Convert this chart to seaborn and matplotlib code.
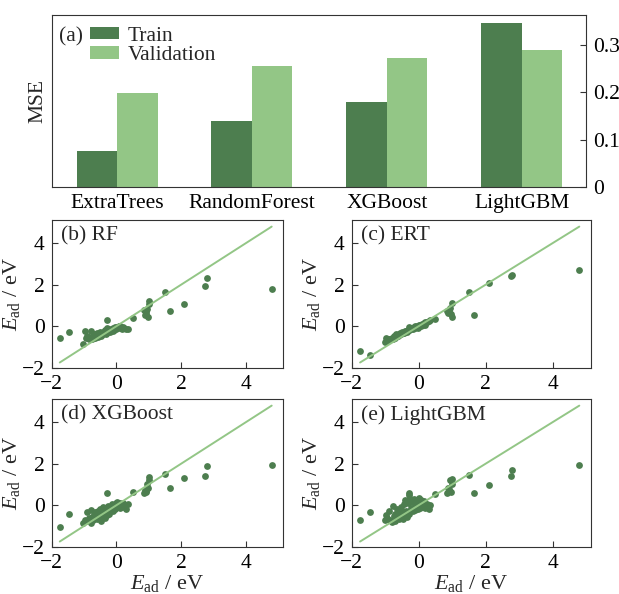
import matplotlib
matplotlib.use("Agg")
import matplotlib.pyplot as plt
import pandas as pd
import seaborn as sns

sns.set_style("ticks")
plt.rcParams['font.family'] = ['Liberation Serif', 'DejaVu Serif']
plt.rcParams['mathtext.fontset'] = 'custom'
plt.rcParams['mathtext.rm'] = 'Liberation Serif'
plt.rcParams['mathtext.it'] = 'Liberation Serif:italic'

DARK = '#4d7e4f'
LIGHT = '#93c686'

# (a) MSE of each model
models = ['ExtraTrees', 'RandomForest', 'XGBoost', 'LightGBM']
mse_train = [0.076, 0.139, 0.179, 0.346]
mse_valid = [0.198, 0.255, 0.272, 0.288]

# DFT adsorption energies (shared x of panels b-e)
e_dft = [-1.75, -1.45, -1.02, -0.98, -0.95, -0.90, -0.85, -0.80, -0.78, -0.75,
         -0.72, -0.70, -0.68, -0.65, -0.62, -0.60, -0.58, -0.55, -0.52, -0.50,
         -0.48, -0.45, -0.42, -0.40, -0.38, -0.35, -0.33, -0.30, -0.28, -0.25,
         -0.22, -0.20, -0.18, -0.15, -0.12, -0.10, -0.08, -0.05, -0.02, 0.00,
         0.02, 0.05, 0.08, 0.10, 0.12, 0.15, 0.18, 0.20, 0.25, 0.30,
         0.35, 0.50, 0.85, 0.88, 0.90, 0.92, 0.95, 0.97, 1.00, 1.00,
         1.50, 1.65, 2.10, 2.75, 2.80, 4.80, -0.30]

pred_rf = [-0.58, -0.27, -0.85, -0.25, -0.55, -0.45, -0.60, -0.50, -0.22, -0.62,
           -0.55, -0.48, -0.40, -0.58, -0.45, -0.35, -0.50, -0.42, -0.30, -0.38,
           -0.45, -0.35, -0.28, -0.40, -0.32, -0.20, -0.36, 0.32, -0.25, -0.30,
           -0.15, -0.28, -0.20, -0.12, -0.22, -0.10, -0.18, -0.05, -0.12, -0.08,
           -0.02, -0.10, 0.00, -0.06, 0.02, -0.08, -0.12, -0.05, -0.10, -0.15,
           -0.15, 0.40, 0.80, 0.55, 0.70, 0.60, 0.85, 0.45, 1.20, 1.05,
           1.65, 0.73, 1.05, 1.92, 2.30, 1.78, -0.10]

pred_ert = [-1.20, -1.40, -0.75, -0.55, -0.70, -0.62, -0.60, -0.55, -0.62, -0.45,
            -0.55, -0.50, -0.40, -0.48, -0.45, -0.38, -0.42, -0.35, -0.40, -0.30,
            -0.35, -0.32, -0.25, -0.30, -0.22, -0.28, -0.20, -0.05, -0.18, -0.10,
            -0.15, -0.08, -0.12, -0.05, -0.10, 0.00, -0.05, 0.02, -0.08, 0.05,
            0.00, 0.08, 0.02, 0.10, 0.05, 0.15, 0.08, 0.20, 0.18, 0.25,
            0.30, 0.35, 0.75, 0.65, 0.80, 0.70, 0.90, 0.60, 1.10, 0.45,
            1.65, 0.53, 2.10, 2.40, 2.45, 2.70, -0.20]

pred_xgb = [-1.05, -0.42, -0.85, -0.70, -0.75, -0.35, -0.60, -0.85, -0.25, -0.55,
            -0.70, -0.45, -0.60, -0.35, -0.50, -0.65, -0.30, -0.55, -0.20, -0.40,
            -0.75, -0.25, -0.50, -0.10, -0.35, -0.60, -0.15, 0.58, -0.30, -0.05,
            -0.40, -0.10, -0.25, 0.05, -0.30, -0.15, 0.00, -0.20, 0.10, -0.05,
            0.15, -0.10, 0.05, -0.15, 0.10, 0.00, -0.05, 0.12, -0.10, -0.20,
            0.05, 0.62, 0.60, 0.75, 0.65, 0.70, 1.00, 0.85, 1.35, 1.20,
            1.50, 0.85, 1.30, 1.42, 1.90, 1.95, -0.45]

pred_lgbm = [-0.72, -0.35, -0.70, -0.45, -0.60, -0.30, -0.70, -0.80, -0.05, -0.50,
             -0.75, -0.40, -0.55, -0.20, -0.60, -0.65, -0.35, -0.45, -0.10, -0.30,
             -0.65, 0.05, -0.50, 0.25, -0.30, -0.55, 0.10, 0.60, -0.40, 0.30,
             -0.15, 0.15, -0.30, 0.30, -0.10, -0.25, 0.05, 0.20, -0.20, 0.35,
             0.10, -0.15, 0.25, -0.05, 0.00, 0.20, -0.10, -0.15, 0.05, -0.20,
             0.00, 0.55, 0.60, 0.85, 0.70, 0.80, 1.20, 0.65, 1.25, 1.00,
             1.47, 0.58, 0.97, 1.43, 1.72, 1.95, 0.50]

FS = 15.5

fig = plt.figure(figsize=(6.19, 5.94), dpi=100)

# ---- (a) bar chart
ax = fig.add_axes([0.0835, 0.6847, 0.863, 0.2906])
df = pd.DataFrame({'model': models * 2,
                   'mse': mse_train + mse_valid,
                   'set': ['Train'] * 4 + ['Validation'] * 4})
sns.barplot(data=df, x='model', y='mse', hue='set', palette=[DARK, LIGHT],
            width=0.6, gap=0, ax=ax, saturation=1, edgecolor='none')
ax.set_xlim(-0.484, 3.474)
ax.set_ylim(0, 0.363)
ax.yaxis.tick_right()
ax.set_yticks([0, 0.1, 0.2, 0.3])
ax.set_yticklabels(['0', '0.1', '0.2', '0.3'])
ax.tick_params(direction='in', length=4, labelsize=FS, colors='#333333',
               labelcolor='black')
ax.tick_params(axis='x', pad=5)
ax.tick_params(axis='y', pad=5)
ax.set_xlabel('')
ax.set_ylabel('MSE', fontsize=FS, labelpad=3)
ax.yaxis.set_label_position('left')
for s in ax.spines.values():
    s.set_visible(True)
    s.set_color('#333333')
ax.text(0.014, 0.93, '(a)', transform=ax.transAxes, fontsize=FS, va='top')
leg = ax.legend(loc='upper left', bbox_to_anchor=(0.072, 0.93), frameon=False,
                fontsize=FS, handlelength=1.35, handleheight=0.5,
                handletextpad=0.4, labelspacing=0.02, borderaxespad=0,
                borderpad=0)

# ---- (b)-(e) scatter panels
panels = [('(b) RF', pred_rf), ('(c) ERT', pred_ert),
          ('(d) XGBoost', pred_xgb), ('(e) LightGBM', pred_lgbm)]
boxes = [[0.0835, 0.381, 0.3737, 0.2487], [0.5682, 0.381, 0.3866, 0.2487],
         [0.0835, 0.0796, 0.3737, 0.2487], [0.5682, 0.0796, 0.3866, 0.2487]]
lo, hi = min(e_dft), max(e_dft)
for i, ((title, pred), box) in enumerate(zip(panels, boxes)):
    a = fig.add_axes(box)
    sns.lineplot(x=[lo, hi], y=[lo, hi], color=LIGHT, lw=1.4, ax=a)
    sns.scatterplot(x=e_dft, y=pred, color=DARK, s=24, linewidth=0, ax=a)
    a.set_xlim(-2, 5.15)
    a.set_ylim(-2, 5.12)
    a.set_xticks([-2, 0, 2, 4])
    a.set_yticks([-2, 0, 2, 4])
    a.set_xticklabels(['\u22122', '0', '2', '4'])
    a.set_yticklabels(['\u22122', '0', '2', '4'])
    a.tick_params(direction='in', length=4, labelsize=FS, colors='#333333',
                  labelcolor='black', pad=5)
    for s in a.spines.values():
        s.set_visible(True)
        s.set_color('#333333')
    a.text(0.04, 0.96, title, transform=a.transAxes, fontsize=FS, va='top')
    a.set_ylabel(r'$E_{\rm ad}$ / eV', fontsize=16, labelpad=0)
    if i >= 2:
        a.set_xlabel(r'$E_{\rm ad}$ / eV', fontsize=16, labelpad=0)

fig.savefig('out.png', dpi=100)
